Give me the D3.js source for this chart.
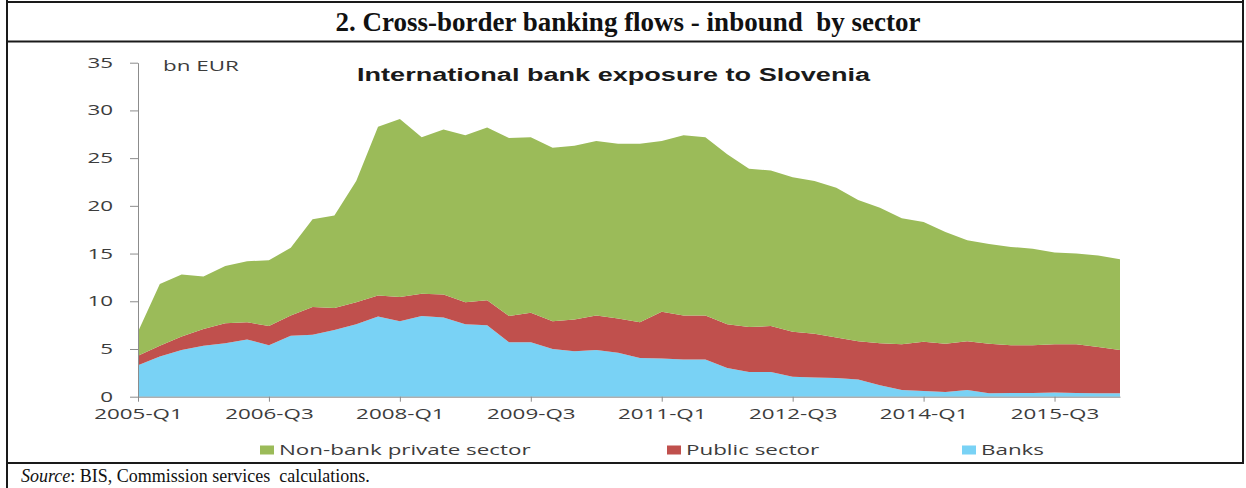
<!DOCTYPE html>
<html>
<head>
<meta charset="utf-8">
<script src="https://cdn.jsdelivr.net/npm/d3@7"></script>
<style>
  body { margin: 0; background: #fff; }
  svg { display: block; }
</style>
</head>
<body>
<svg id="chart" width="1246" height="488"></svg>
<script>
const quarters = [
  "2005-Q1","2005-Q2","2005-Q3","2005-Q4","2006-Q1","2006-Q2","2006-Q3","2006-Q4",
  "2007-Q1","2007-Q2","2007-Q3","2007-Q4","2008-Q1","2008-Q2","2008-Q3","2008-Q4",
  "2009-Q1","2009-Q2","2009-Q3","2009-Q4","2010-Q1","2010-Q2","2010-Q3","2010-Q4",
  "2011-Q1","2011-Q2","2011-Q3","2011-Q4","2012-Q1","2012-Q2","2012-Q3","2012-Q4",
  "2013-Q1","2013-Q2","2013-Q3","2013-Q4","2014-Q1","2014-Q2","2014-Q3","2014-Q4",
  "2015-Q1","2015-Q2","2015-Q3","2015-Q4","2016-Q1","2016-Q2"
];
const xTickLabels = ["2005-Q1","2006-Q3","2008-Q1","2009-Q3","2011-Q1","2012-Q3","2014-Q1","2015-Q3"];
const yTicks = [0, 5, 10, 15, 20, 25, 30, 35];

// bn EUR
const banks = [
  3.3, 4.2, 4.9, 5.35, 5.6, 6.0, 5.4, 6.4, 6.5, 7.0, 7.6, 8.4,
  7.9, 8.45, 8.3, 7.6, 7.5, 5.7, 5.7, 5.0, 4.75, 4.9, 4.6, 4.05,
  4.0, 3.9, 3.9, 3.0, 2.6, 2.6, 2.1, 2.0, 1.95, 1.8, 1.2, 0.7,
  0.6, 0.5, 0.7, 0.35, 0.4, 0.4, 0.45, 0.4, 0.35, 0.35
];
const publicSector = [
  1.0, 1.15, 1.4, 1.75, 2.1, 1.8, 2.0, 2.1, 2.9, 2.3, 2.3, 2.2,
  2.55, 2.35, 2.4, 2.3, 2.6, 2.75, 3.1, 2.9, 3.35, 3.6, 3.6, 3.75,
  4.9, 4.6, 4.6, 4.6, 4.7, 4.8, 4.7, 4.6, 4.25, 4.0, 4.4, 4.8,
  5.15, 5.05, 5.1, 5.2, 5.0, 5.0, 5.05, 5.1, 4.85, 4.55
];
const nonBank = [
  2.5, 6.45, 6.5, 5.5, 6.0, 6.4, 6.9, 7.1, 9.2, 9.7, 12.7, 17.7,
  18.65, 16.4, 17.3, 17.5, 18.1, 18.65, 18.4, 18.2, 18.2, 18.3, 18.3, 18.7,
  17.9, 18.9, 18.7, 17.8, 16.6, 16.3, 16.2, 16.0, 15.7, 14.8, 14.2, 13.2,
  12.55, 11.7, 10.6, 10.45, 10.3, 10.1, 9.6, 9.5, 9.6, 9.5
];

const keys = ["banks", "public", "nonbank"];
const names = { nonbank: "Non-bank private sector", public: "Public sector", banks: "Banks" };
const colors = { nonbank: "#9bbb59", public: "#c0504d", banks: "#79d2f5" };
const legendOrder = ["nonbank", "public", "banks"];

const svg = d3.select("#chart");
const W = 1246;

const table = quarters.map((q, i) => ({ q, banks: banks[i], public: publicSector[i], nonbank: nonBank[i] }));
const stacked = d3.stack().keys(keys)(table);

const x = d3.scalePoint().domain(quarters).range([138, 1120]);
const y = d3.scaleLinear().domain([0, 35]).range([396.7, 62.7]);

const area = d3.area()
  .x(d => x(d.data.q))
  .y0(d => y(d[0]))
  .y1(d => y(d[1]));

svg.append("g")
  .selectAll("path")
  .data(stacked)
  .join("path")
  .attr("d", area)
  .attr("fill", d => colors[d.key]);

// the chart picture is stretched sideways in the report
const stretch = 1.6;
const labelFont = "'Open Sans', 'Liberation Sans', sans-serif";

const yAxis = svg.append("g")
  .attr("transform", `translate(${x.range()[0]},0)`)
  .call(d3.axisLeft(y).tickValues(yTicks).tickSize(8).tickSizeOuter(0));
yAxis.select(".domain").attr("stroke", "#8c8c8c");
yAxis.selectAll(".tick line").attr("stroke", "#8c8c8c");
yAxis.selectAll(".tick text")
  .attr("x", -25 / stretch)
  .attr("transform", `scale(${stretch},1)`)
  .style("font-family", labelFont)
  .style("font-size", "14px")
  .attr("fill", "#3c3c3c");

const xAxis = svg.append("g")
  .attr("transform", `translate(0,${y(0)})`)
  .call(d3.axisBottom(x).tickValues(xTickLabels).tickSize(5).tickSizeOuter(0));
xAxis.select(".domain").attr("stroke", "#8c8c8c");
xAxis.selectAll(".tick line").attr("stroke", "#8c8c8c");
xAxis.selectAll(".tick text")
  .attr("y", 18)
  .attr("dy", "0.32em")
  .attr("transform", `scale(${stretch},1)`)
  .style("font-family", labelFont)
  .style("font-size", "14px")
  .attr("fill", "#3c3c3c");

svg.append("text")
  .attr("transform", `translate(163,66) scale(${stretch},1)`)
  .attr("dy", "0.35em")
  .style("font-family", labelFont)
  .style("font-size", "14px")
  .attr("fill", "#3c3c3c")
  .text("bn EUR");

svg.append("text")
  .attr("x", 357)
  .attr("y", 75)
  .attr("dy", "0.35em")
  .attr("textLength", 513)
  .attr("lengthAdjust", "spacingAndGlyphs")
  .style("font-family", "'Liberation Sans', Arial, sans-serif")
  .style("font-size", "18px")
  .style("font-weight", "bold")
  .attr("fill", "#1a1a1a")
  .text("International bank exposure to Slovenia");

// legend
const legendX = { nonbank: 260, public: 667, banks: 962 };
const legend = svg.append("g")
  .selectAll("g")
  .data(legendOrder)
  .join("g")
  .attr("transform", d => `translate(${legendX[d]},450)`);
legend.append("rect")
  .attr("y", -4.5)
  .attr("width", 14)
  .attr("height", 9)
  .attr("fill", d => colors[d]);
legend.append("text")
  .attr("transform", `translate(19,0) scale(${stretch},1)`)
  .attr("dy", "0.35em")
  .style("font-family", labelFont)
  .style("font-size", "14px")
  .attr("fill", "#3c3c3c")
  .text(d => names[d]);

// page frame
const frame = svg.append("g").attr("stroke", "#1a1a1a").attr("stroke-width", 2);
frame.append("line").attr("x1", 7).attr("x2", 7).attr("y1", 0).attr("y2", 488);
frame.append("line").attr("x1", 1243).attr("x2", 1243).attr("y1", 0).attr("y2", 463);
frame.append("line").attr("x1", 6).attr("x2", 1244).attr("y1", 2).attr("y2", 2);
frame.append("line").attr("x1", 6).attr("x2", 1244).attr("y1", 41.5).attr("y2", 41.5);
frame.append("line").attr("x1", 6).attr("x2", 1244).attr("y1", 463).attr("y2", 463);

svg.append("text")
  .attr("x", W / 2 + 5)
  .attr("y", 22)
  .attr("dy", "0.35em")
  .attr("text-anchor", "middle")
  .style("white-space", "pre")
  .style("font-family", "'Liberation Serif', 'Times New Roman', serif")
  .style("font-size", "27px")
  .style("font-weight", "bold")
  .attr("fill", "#111")
  .text("2. Cross-border banking flows - inbound  by sector");

const source = svg.append("text")
  .attr("x", 21)
  .attr("y", 476)
  .attr("dy", "0.35em")
  .style("white-space", "pre")
  .style("font-family", "'Liberation Serif', 'Times New Roman', serif")
  .style("font-size", "18px")
  .attr("fill", "#111");
source.append("tspan").style("font-style", "italic").text("Source");
source.append("tspan").text(": BIS, Commission services  calculations.");
</script>
</body>
</html>
